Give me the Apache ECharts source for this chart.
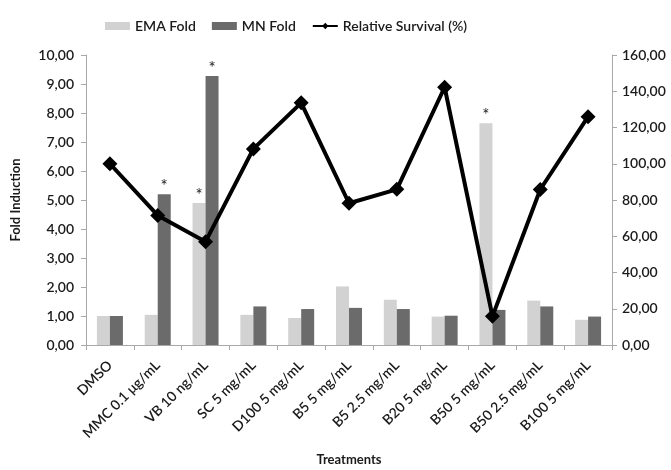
<!DOCTYPE html>
<html>
<head>
<meta charset="utf-8">
<script src="https://cdn.jsdelivr.net/npm/echarts@6/dist/echarts.min.js"></script>
<style>
  html, body { margin: 0; padding: 0; background: #fff; }
  #chart { width: 671px; height: 470px; }
</style>
</head>
<body>
<div id="chart"></div>
<script>
const treatments = ['DMSO', 'MMC 0.1 μg/mL', 'VB 10 ng/mL', 'SC 5 mg/mL', 'D100 5 mg/mL', 'B5 5 mg/mL',
  'B5 2.5 mg/mL', 'B20 5 mg/mL', 'B50 5 mg/mL', 'B50 2.5 mg/mL', 'B100 5 mg/mL']
const emaFold = [1.00, 1.04, 4.90, 1.04, 0.93, 2.02, 1.56, 0.98, 7.65, 1.53, 0.87]
const mnFold = [1.00, 5.20, 9.28, 1.33, 1.24, 1.28, 1.24, 1.01, 1.21, 1.33, 0.98]
const survival = [100.0, 71.5, 57.0, 108.2, 133.6, 78.2, 85.9, 142.2, 15.8, 85.8, 126.0]
const emaSig = [false, false, true, false, false, false, false, false, true, false, false]
const mnSig = [false, true, true, false, false, false, false, false, false, false, false]

const font = 'Lato'
const comma = v => v.toFixed(2).replace('.', ',')
const axisGray = '#a8a8a8'
const textColor = '#1a1a1a'

function barData(values, sig) {
  return values.map((v, i) => ({
    value: v,
    label: { show: sig[i] }
  }))
}

const starLabel = {
  position: 'top',
  formatter: '*',
  color: '#222',
  fontSize: 17,
  fontFamily: font,
  distance: -1
}

const chart = echarts.init(document.getElementById('chart'))
const option = {
  animation: false,
  textStyle: { fontFamily: font },
  legend: {
    top: 14,
    left: 100,
    itemGap: 16,
    itemWidth: 25,
    itemHeight: 8,
    textStyle: { fontFamily: font, fontSize: 14, fontWeight: 600, color: textColor },
    data: [
      { name: 'EMA Fold', icon: 'rect' },
      { name: 'MN Fold', icon: 'rect' },
      { name: 'Relative Survival (%)' }
    ]
  },
  grid: { left: 86, right: 59, top: 55, bottom: 125, outerBoundsMode: 'none', containLabel: false },
  xAxis: {
    type: 'category',
    data: treatments,
    name: 'Treatments',
    nameLocation: 'middle',
    nameGap: 108,
    nameTextStyle: { fontFamily: font, fontWeight: 'bold', fontSize: 13, color: textColor },
    axisLine: { lineStyle: { color: axisGray } },
    axisTick: { show: true, alignWithLabel: false, length: 5, lineStyle: { color: axisGray } },
    axisLabel: { rotate: 45, interval: 0, fontSize: 14, fontWeight: 600, color: textColor, fontFamily: font, margin: 18 }
  },
  yAxis: [
    {
      type: 'value',
      min: 0,
      max: 10,
      interval: 1,
      name: 'Fold Induction',
      nameLocation: 'middle',
      nameGap: 64,
      nameTextStyle: { fontFamily: font, fontWeight: 'bold', fontSize: 13, color: textColor },
      axisLine: { show: true, lineStyle: { color: axisGray } },
      axisTick: { show: true, length: 5, lineStyle: { color: axisGray } },
      splitLine: { show: false },
      axisLabel: { formatter: comma, fontSize: 14, fontWeight: 600, color: textColor, fontFamily: font, margin: 12 }
    },
    {
      type: 'value',
      min: 0,
      max: 160,
      interval: 20,
      position: 'right',
      axisLine: { show: true, lineStyle: { color: axisGray } },
      axisTick: { show: true, length: 5, lineStyle: { color: axisGray } },
      splitLine: { show: false },
      axisLabel: { formatter: comma, fontSize: 14, fontWeight: 600, color: textColor, fontFamily: font, margin: 10 }
    }
  ],
  series: [
    {
      name: 'EMA Fold',
      type: 'bar',
      barWidth: 13,
      barGap: '0%',
      itemStyle: { color: '#d2d2d2' },
      label: starLabel,
      data: barData(emaFold, emaSig)
    },
    {
      name: 'MN Fold',
      type: 'bar',
      barWidth: 13,
      barGap: '0%',
      itemStyle: { color: '#6b6b6b' },
      label: starLabel,
      data: barData(mnFold, mnSig)
    },
    {
      name: 'Relative Survival (%)',
      type: 'line',
      yAxisIndex: 1,
      symbol: 'diamond',
      symbolSize: 15,
      lineStyle: { color: '#000', width: 4 },
      itemStyle: { color: '#000' },
      z: 5,
      data: survival
    }
  ]
}
chart.setOption(option)
</script>
</body>
</html>
